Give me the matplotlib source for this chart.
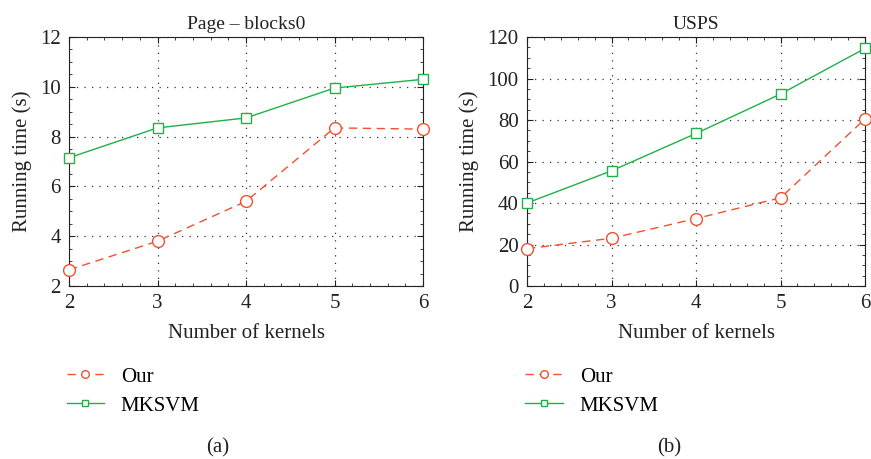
import numpy as np
import matplotlib
matplotlib.use("Agg")
import matplotlib.pyplot as plt
from matplotlib.ticker import AutoMinorLocator

plt.rcParams['font.family'] = ['Liberation Serif', 'DejaVu Serif']

kernels = [2, 3, 4, 5, 6]

page_our = [2.65, 3.8, 5.4, 8.35, 8.3]
page_mksvm = [7.15, 8.35, 8.75, 9.95, 10.3]

usps_our = [18, 23, 32.5, 42.5, 80.5]
usps_mksvm = [40, 55.5, 73.5, 92.5, 114.5]

red = "#f0502f"
green = "#1fb04a"

fig = plt.figure(figsize=(8.71, 4.59), dpi=100)
W, H = 871, 459

ax1 = fig.add_axes([69 / W, 1 - 286 / H, (423 - 69) / W, (286 - 37) / H])
ax2 = fig.add_axes([527 / W, 1 - 286 / H, (865 - 527) / W, (286 - 37) / H])

panels = [
    (ax1, page_our, page_mksvm, "Page – blocks0", (2, 12), 2, "(a)"),
    (ax2, usps_our, usps_mksvm, "USPS", (0, 120), 20, "(b)"),
]

for ax, our, mk, title, ylim, step, tag in panels:
    l1, = ax.plot(kernels, our, "--o", color=red, lw=1.0, ms=8.5,
                  mfc="white", mec=red, mew=1.0, label="Our", dashes=(6, 4),
                  clip_on=False, zorder=5)
    l2, = ax.plot(kernels, mk, "-s", color=green, lw=1.0, ms=7.5,
                  mfc="white", mec=green, mew=1.0, label="MKSVM",
                  clip_on=False, zorder=5)
    ax.set_xlim(2, 6)
    ax.set_ylim(*ylim)
    ax.set_xticks(kernels)
    ax.set_yticks(np.arange(ylim[0], ylim[1] + step / 2, step))
    ax.xaxis.set_minor_locator(AutoMinorLocator(5))
    ax.yaxis.set_minor_locator(AutoMinorLocator(4))
    ax.tick_params(which="both", direction="in", top=True, right=True,
                   labelsize=15, colors="#222222")
    ax.tick_params(which="major", length=4, pad=6)
    ax.tick_params(which="minor", length=2)
    ax.grid(True, which="major", ls=(0, (1, 5)), color="#333333", lw=0.9)
    for s in ax.spines.values():
        s.set_color("#222222")
    ax.set_title(title, fontsize=14, color="#222222", pad=6)
    ax.set_xlabel("Number of kernels", fontsize=15, color="#222222", labelpad=8)
    ax.set_ylabel("Running time (s)", fontsize=15, color="#222222", labelpad=6)
    ax.legend(handles=[l1, l2], loc="upper left", bbox_to_anchor=(-0.06, -0.25),
              frameon=False, fontsize=15, handlelength=1.8, handletextpad=0.8,
              labelspacing=0.45, markerscale=0.65)
    ax.text(0.42, -0.65, tag, transform=ax.transAxes, ha="center", va="center",
            fontsize=15, color="#222222")

fig.savefig("out.png", dpi=100)
